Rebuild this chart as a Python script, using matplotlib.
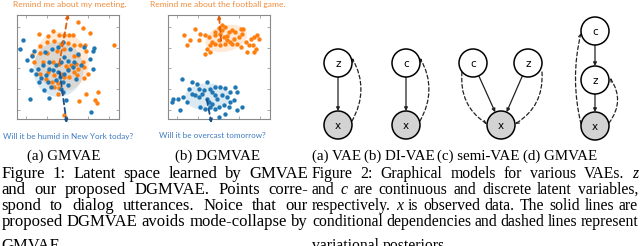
import matplotlib
matplotlib.use("Agg")
import matplotlib.pyplot as plt
from matplotlib.patches import Circle, Ellipse, FancyArrowPatch

# ---- scatter data (units = 3x crop pixels) ----
a_orange_x = [73,100,115,133,148,163,176,190,207,225,77,98,118,140,160,178,197,212,298,
              55,78,97,127,150,178,190,215,60,85,117,135,155,170,185,205,77,100,120,140,
              162,165,180,190,210,95,112,130,150,220,210,188,120,135,250,215,193,240,248,148,130]
a_orange_y = [65,72,57,70,70,68,68,30,47,62,103,90,88,96,92,100,100,100,100,
              130,122,122,118,110,133,130,118,150,150,150,155,162,160,155,150,185,180,190,185,
              170,195,180,170,165,200,210,212,196,185,198,190,225,228,240,245,268,265,272,310,245]
a_blue_x = [28,18,38,60,55,92,112,130,145,168,190,208,237,235,225,50,72,85,105,125,140,150,
            160,180,200,235,65,80,95,105,117,130,138,150,160,175,75,100,125,145,110,140,145,
            185,160,90,47,103,155,228]
a_blue_y = [85,112,145,118,133,120,110,105,90,112,125,105,108,118,140,173,170,160,150,160,150,135,
            148,150,160,172,185,198,190,170,173,180,195,185,175,165,210,210,205,210,225,230,240,
            200,218,235,262,258,265,300]

b_orange_x = [90,57,75,65,100,105,120,130,140,148,160,170,180,165,175,185,190,200,210,225,232,
              220,205,195,180,165,150,135,125,135,200,215,225,240,255,265,275,250,262,270,245,
              265,280,230,160,170,185,150,120]
b_orange_y = [50,68,85,100,85,65,68,75,90,70,48,40,45,65,75,72,60,55,60,50,50,
              75,80,90,95,100,95,100,110,120,95,95,105,90,80,75,70,100,100,110,120,
              120,80,65,85,55,85,60,125]
b_blue_x = [50,80,95,125,70,100,115,135,150,165,180,210,215,25,40,55,65,80,90,100,110,125,130,
            140,155,170,185,195,205,20,45,105,135,150,160,175,190,215,230,180,160,120,150,140,195]
b_blue_y = [200,210,215,210,230,230,235,230,225,225,228,225,240,262,260,255,270,245,250,255,245,260,270,
            275,260,250,255,270,265,270,295,285,285,290,285,280,285,295,285,305,315,290,250,240,240]

# cluster ellipses: centre x, centre y, width, height
a_ell_orange = [142, 148, 160, 178]
a_ell_blue = [132, 172, 150, 165]
b_ell_orange = [182, 79, 127, 78]
b_ell_blue = [127, 255, 135, 82]

# dashed direction arrows: start -> tip
a_arr_orange = [(133, 165), (163, -2)]
a_arr_blue = [(135, 172), (158, 342)]
b_arr_orange = [(168, 95), (160, 0)]
b_arr_blue = [(123, 255), (140, 342)]

top_texts = ["Remind me about my meeting.", "Remind me about the football game."]
bottom_texts = ["Will it be humid in New York today?", "Will it be overcast tomorrow?"]

# ---- graphical models (figure pixels) ----
node_labels = ["z", "x", "c", "x", "c", "z", "x", "c", "z", "x"]
node_x = [338, 338, 406, 406, 473, 528, 501, 595, 595, 595]
node_y = [63, 125, 63, 125, 63, 63, 125, 31, 80, 126]
node_obs = [False, True, False, True, False, False, True, False, False, True]
solid_edges = [(0, 1), (2, 3), (4, 6), (5, 6), (7, 8), (8, 9)]
# dashed: start point, end point, rad
dashed_edges = [((352, 121), (352, 58), 0.28),
                ((420, 121), (420, 58), 0.28),
                ((462, 72), (487, 124), 0.3),
                ((542, 72), (515, 124), -0.3),
                ((581, 124), (581, 33), -0.12),
                ((609, 123), (610, 78), 0.35)]

orange = "#ff7f0e"
blue = "#1f77b4"

fig = plt.figure(figsize=(6.4, 2.46), dpi=100)

def scatter_panel(left, ox, oy, bx, by, eo, eb, ao, ab):
    ax = fig.add_axes([left / 640, 1 - 119.3 / 246, 102 / 640, 104.6 / 246])
    ax.set_xlim(8, 312)
    ax.set_ylim(322, 8)
    ax.add_patch(Ellipse((eo[0], eo[1]), eo[2], eo[3], angle=-15, color=orange, alpha=0.16, lw=0))
    ax.add_patch(Ellipse((eb[0], eb[1]), eb[2], eb[3], color=blue, alpha=0.16, lw=0))
    ax.scatter(ox, oy, s=10, color=orange, lw=0, zorder=3)
    ax.scatter(bx, by, s=10, color=blue, lw=0, zorder=3)
    for arr, c in [(ao, "#e0600a"), (ab, "#1a4f8a")]:
        p = FancyArrowPatch(arr[0], arr[1], arrowstyle="-|>", mutation_scale=5,
                            linestyle=(0, (3, 2)), lw=1.3, color=c, clip_on=False, zorder=4)
        ax.add_patch(p)
    ax.set_xticks([35, 97, 159, 221, 283])
    ax.set_yticks([45, 107, 169, 231, 293])
    ax.tick_params(direction="in", length=2, width=0.5, color="#888888",
                   top=True, right=True, labelbottom=False, labelleft=False)
    for sp in ax.spines.values():
        sp.set_color("#8a8a8a")
        sp.set_linewidth(0.8)
    return ax

scatter_panel(16.7, a_orange_x, a_orange_y, a_blue_x, a_blue_y, a_ell_orange, a_ell_blue,
              a_arr_orange, a_arr_blue)
scatter_panel(167.7, b_orange_x, b_orange_y, b_blue_x, b_blue_y, b_ell_orange, b_ell_blue,
              b_arr_orange, b_arr_blue)

ov = fig.add_axes([0, 0, 1, 1])
ov.set_xlim(0, 640)
ov.set_ylim(246, 0)
ov.axis("off")

ov.text(70, 5, top_texts[0], color="#f08c3c", fontsize=6.1, family="Lato", ha="center", va="center")
ov.text(218, 5, top_texts[1], color="#f08c3c", fontsize=6.1, family="Lato", ha="center", va="center")
ov.text(68, 136, bottom_texts[0], color="#3f7cc0", fontsize=5.9, family="Lato", ha="center", va="center")
ov.text(212, 136, bottom_texts[1], color="#3f7cc0", fontsize=5.9, family="Lato", ha="center", va="center")

# nodes
R = 14
for lab, x, y, obs in zip(node_labels, node_x, node_y, node_obs):
    ov.add_patch(Circle((x, y), R, facecolor="#d3d3d3" if obs else "white",
                        edgecolor="black", lw=1.1, zorder=3))
    ov.text(x, y + 1, lab, fontsize=7.5, family="DejaVu Sans", ha="center", va="center", zorder=4)
for i, j in solid_edges:
    dx, dy = node_x[j] - node_x[i], node_y[j] - node_y[i]
    d = (dx ** 2 + dy ** 2) ** 0.5
    p0 = (node_x[i] + dx / d * R, node_y[i] + dy / d * R)
    p1 = (node_x[j] - dx / d * R, node_y[j] - dy / d * R)
    ov.add_patch(FancyArrowPatch(p0, p1, arrowstyle="-|>", mutation_scale=5, lw=0.9,
                                 color="#222222", shrinkA=0, shrinkB=0, zorder=2))
for p0, p1, rad in dashed_edges:
    ov.add_patch(FancyArrowPatch(p0, p1, arrowstyle="->", mutation_scale=5, lw=0.9,
                                 linestyle=(0, (3, 2)), color="#222222",
                                 connectionstyle="arc3,rad=%s" % rad,
                                 shrinkA=0, shrinkB=0, zorder=2))

# captions
r = fig.canvas.get_renderer()
SUB = 10.8

def put_line(x0, x1, y, line, fs, justify=True):
    items = []
    for w in line.split():
        it = w.startswith("*")
        s = w[1:] if it else w
        items.append(ov.text(0, y, s, fontsize=fs, family="Liberation Serif",
                             style="italic" if it else "normal", va="baseline", ha="left"))
    widths = [t.get_window_extent(renderer=r).width for t in items]
    if justify and len(items) > 1:
        gap = (x1 - x0 - sum(widths)) / (len(items) - 1)
    else:
        gap = fs * 100 / 72 * 0.25
    x = x0
    for t, w in zip(items, widths):
        t.set_x(x)
        x += w + gap

fig1_lines = ["Figure 1: Latent space learned by GMVAE",
              "and our proposed DGMVAE. Points corre-",
              "spond to dialog utterances. Noice that our",
              "proposed DGMVAE avoids mode-collapse by",
              "GMVAE."]
fig2_lines = ["Figure 2: Graphical models for various VAEs. *z",
              "and *c are continuous and discrete latent variables,",
              "respectively. *x is observed data. The solid lines are",
              "conditional dependencies and dashed lines represent",
              "variational posteriors."]
baselines = [177.7, 194, 210, 226, 250]

for k, (l1, l2) in enumerate(zip(fig1_lines, fig2_lines)):
    last = k == len(fig1_lines) - 1
    put_line(1.5, 308, baselines[k], l1, 12.0, not last)
    put_line(312, 638, baselines[k], l2, 11.3, not last)

for s, x in [("(a) GMVAE", 64), ("(b) DGMVAE", 217.5)]:
    ov.text(x, 160, s, fontsize=SUB, family="Liberation Serif", ha="center", va="baseline")
for s, x in [("(a) VAE", 312), ("(b) DI-VAE", 364), ("(c) semi-VAE", 437), ("(d) GMVAE", 523)]:
    ov.text(x, 160, s, fontsize=SUB, family="Liberation Serif", ha="left", va="baseline")

fig.savefig("out.png", dpi=100)
